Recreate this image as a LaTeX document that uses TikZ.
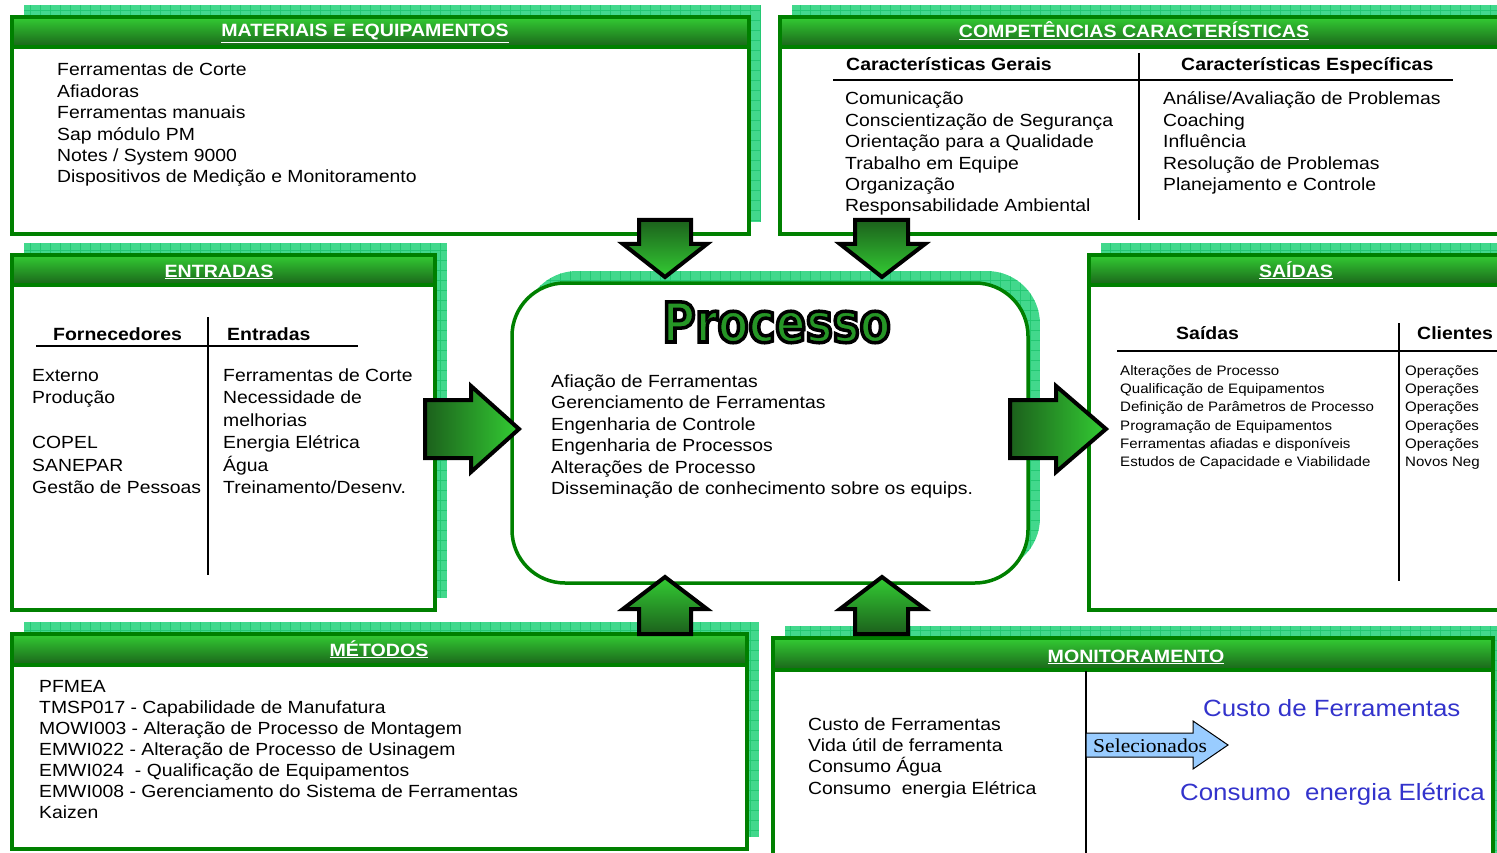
\documentclass[tikz,border=0pt]{standalone}
\usepackage{fontspec}
\setmainfont[FakeStretch=1.1]{Liberation Sans}
\newfontfamily\selfont[FakeStretch=1.1]{Liberation Serif}
\newfontfamily\titlefont[FakeStretch=0.82]{DejaVu Sans}

\definecolor{headlight}{RGB}{51,204,51}
\definecolor{headdark}{RGB}{26,100,26}
\definecolor{boxgreen}{RGB}{0,128,0}
\definecolor{shadowfill}{RGB}{66,216,140}
\definecolor{gridgreen}{RGB}{36,200,115}
\definecolor{arrowdark}{RGB}{28,96,28}
\definecolor{arrowlight}{RGB}{51,204,51}
\definecolor{titlegreen}{RGB}{38,150,38}
\definecolor{selblue}{RGB}{153,204,255}
\definecolor{textblue}{RGB}{51,51,204}

\newcommand{\fs}[1]{\fontsize{#1}{#1}\selectfont}
% filled text with a black outline (PDF text render mode 2)
\newcommand{\outlined}[2]{{\color{#1}\special{pdf:code 2 Tr 3.5 w 0 G}#2\special{pdf:code 0 Tr 1 w}}}

% panel: shadow with grid, white body, gradient header bar, green frame
\newcommand{\panel}[6]{%
  \begin{scope}
    \clip (#2+12,#3-12) rectangle (#4+12,#5-12);
    \fill[shadowfill] (#2+12,#3-12) rectangle (#4+12,#5-12);
    \draw[gridline] (#2+12,#3-12) grid[step=10pt] (#4+12,#5-12);
  \end{scope}
  \fill[white] (#2,#3) rectangle (#4,#5);
  \shade[top color=headlight, bottom color=headdark] (#2,#3) rectangle (#4,#6);
  \draw[frame] (#2,#6) -- (#4,#6);
  \draw[frame] (#2,#3) rectangle (#4,#5);
  \coordinate (#1) at ({(#2+#4)/2},{(#3+#5)/2});
}

% a column of text lines, one node per line
\newcommand{\textlines}[6]{%
  \foreach \t [count=\i from 0] in {#6} {%
    \node[bodytext, font=#1] (#2\i) at (#3,{#4+\i*#5}) {\t};
  }%
}

\begin{document}
\begin{tikzpicture}[x=1pt, y=-1pt,
  frame/.style={draw=boxgreen, line width=3.5pt},
  gridline/.style={draw=gridgreen, line width=0.6pt},
  headtext/.style={anchor=base, inner sep=0pt, text=white, font=\fs{17.8}\bfseries},
  colhead/.style={anchor=base west, inner sep=0pt, font=\fs{17.7}\bfseries},
  bodytext/.style={anchor=base west, inner sep=0pt},
  divider/.style={draw=black, line width=1.5pt},
  bigarrow/.style={draw=black, line width=4pt, line join=miter},
  titletext/.style={anchor=base, inner sep=0pt, font=\titlefont\bfseries\fontsize{55}{55}\selectfont}]

\useasboundingbox (0,0) rectangle (1497,853);
\clip (0,0) rectangle (1497,853);

% ---- panels ----
\panel{mat}{12}{17}{749}{234}{47}
\panel{comp}{780}{17}{1512}{234}{47}
\panel{ent}{12}{255}{435}{610}{285}
\panel{sai}{1089}{255}{1512}{610}{285}
\panel{met}{12}{634}{747}{849}{665}
\panel{mon}{773}{638}{1493}{870}{670}

% ---- central process box ----
\begin{scope}
  \clip[rounded corners=53pt] (524,271) rectangle (1040,571);
  \fill[shadowfill] (524,271) rectangle (1040,571);
  \draw[gridline] (524,271) grid[step=10pt] (1040,571);
\end{scope}
\draw[frame, fill=white, rounded corners=53pt] (512,283) rectangle (1028,583);
\coordinate (proc) at (770,433);

% ---- header titles ----
\node[headtext] (hmat) at (365,37) {\underline{MATERIAIS E EQUIPAMENTOS}};
\node[headtext] (hcomp) at (1134,38) {\underline{COMPETÊNCIAS CARACTERÍSTICAS}};
\node[headtext] (hent) at (219,277) {\underline{ENTRADAS}};
\node[headtext] (hsai) at (1296,277) {\underline{SAÍDAS}};
\node[headtext] (hmet) at (379,656) {\underline{MÉTODOS}};
\node[headtext] (hmon) at (1136,662) {\underline{MONITORAMENTO}};

% ---- Materiais e equipamentos ----
\textlines{\fs{17.6}}{mt}{57}{76}{21.4}{Ferramentas de Corte, Afiadoras, Ferramentas manuais, Sap módulo PM, Notes / System 9000, Dispositivos de Medição e Monitoramento}

% ---- Competências ----
\node[colhead] (cg) at (846,71) {Características Gerais};
\node[colhead] (ce) at (1181,71) {Características Específicas};
\draw[divider] (833,80) -- (1453,80);
\draw[divider] (1139,53) -- (1139,220);
\textlines{\fs{17.6}}{cgl}{845}{105}{21.4}{Comunicação, Conscientização de Segurança, Orientação para a Qualidade, Trabalho em Equipe, Organização, Responsabilidade Ambiental}
\textlines{\fs{17.6}}{cel}{1163}{105}{21.4}{Análise/Avaliação de Problemas, Coaching, Influência, Resolução de Problemas, Planejamento e Controle}

% ---- Entradas ----
\node[colhead] (ef) at (53,340) {Fornecedores};
\node[colhead] (ee) at (227,340) {Entradas};
\draw[divider] (36,346) -- (358,346);
\draw[divider] (208,317) -- (208,575);
\textlines{\fs{17.6}}{efa}{32}{381}{22.5}{Externo, Produção}
\textlines{\fs{17.6}}{efb}{32}{448.5}{22.5}{COPEL, SANEPAR, Gestão de Pessoas}
\textlines{\fs{17.6}}{eel}{223}{381}{22.5}{Ferramentas de Corte, Necessidade de, melhorias, Energia Elétrica, Água, Treinamento/Desenv.}

% ---- Saídas ----
\node[colhead] (ss) at (1176,339) {Saídas};
\node[colhead] (sc) at (1417,339) {Clientes};
\draw[divider] (1117,351) -- (1512,351);
\draw[divider] (1399,323) -- (1399,581);
\textlines{\fs{13.7}}{ssl}{1120}{375}{18.35}{Alterações de Processo, Qualificação de Equipamentos, Definição de Parâmetros de Processo, Programação de Equipamentos, Ferramentas afiadas e disponíveis, Estudos de Capacidade e Viabilidade}
\textlines{\fs{13.7}}{scl}{1405}{375}{18.35}{Operações, Operações, Operações, Operações, Operações, Novos Neg}

% ---- Processo ----
\node[titletext] (ptitle) at (776.5,342) {\outlined{titlegreen}{Processo}};
\textlines{\fs{17.6}}{pl}{551}{387.5}{21.4}{Afiação de Ferramentas, Gerenciamento de Ferramentas, Engenharia de Controle, Engenharia de Processos, Alterações de Processo, Disseminação de conhecimento sobre os equips.}

% ---- Métodos ----
\textlines{\fs{17.6}}{ml}{39}{692}{21.1}{PFMEA, TMSP017 - Capabilidade de Manufatura, MOWI003 - Alteração de Processo de Montagem, EMWI022 - Alteração de Processo de Usinagem, EMWI024\ \ - Qualificação de Equipamentos, EMWI008 - Gerenciamento do Sistema de Ferramentas, Kaizen}

% ---- Monitoramento ----
\draw[divider] (1086,671) -- (1086,870);
\textlines{\fs{17.6}}{mo}{808}{730}{21.4}{Custo de Ferramentas, Vida útil de ferramenta, Consumo Água, Consumo\ \ energia Elétrica}
\filldraw[fill=selblue, draw=black, line width=1pt, line join=miter]
  (1086,733) -- (1193,733) -- (1193,721) -- (1228,745) -- (1193,769) -- (1193,757) -- (1086,757) -- cycle;
\node[bodytext, font=\selfont\fs{19.6}] (sel) at (1093,752) {Selecionados};
\node[bodytext, font=\fs{23.5}, text=textblue] (bc1) at (1203,716) {Custo de Ferramentas};
\node[bodytext, font=\fs{23.5}, text=textblue] (bc2) at (1180,800) {Consumo\ \ energia Elétrica};

% ---- block arrows between panels and the process ----
\shadedraw[bigarrow, top color=arrowdark, bottom color=arrowlight]
  (639,220) -- (691,220) -- (691,244) -- (707,244) -- (665,277) -- (623,244) -- (639,244) -- cycle;
\shadedraw[bigarrow, top color=arrowdark, bottom color=arrowlight]
  (855,220) -- (908,220) -- (908,244) -- (925,244) -- (882,277) -- (840,244) -- (855,244) -- cycle;
\shadedraw[bigarrow, top color=arrowlight, bottom color=arrowdark]
  (665,577) -- (707,609) -- (691,609) -- (691,634) -- (639,634) -- (639,609) -- (623,609) -- cycle;
\shadedraw[bigarrow, top color=arrowlight, bottom color=arrowdark]
  (882,577) -- (925,609) -- (908,609) -- (908,634) -- (855,634) -- (855,609) -- (840,609) -- cycle;
\shadedraw[bigarrow, left color=arrowdark, right color=arrowlight]
  (425,400) -- (471,400) -- (471,386) -- (519,429) -- (471,472) -- (471,458) -- (425,458) -- cycle;
\shadedraw[bigarrow, left color=arrowdark, right color=arrowlight]
  (1010,400) -- (1056,400) -- (1056,386) -- (1106,429) -- (1056,472) -- (1056,458) -- (1010,458) -- cycle;

\end{tikzpicture}
\end{document}
